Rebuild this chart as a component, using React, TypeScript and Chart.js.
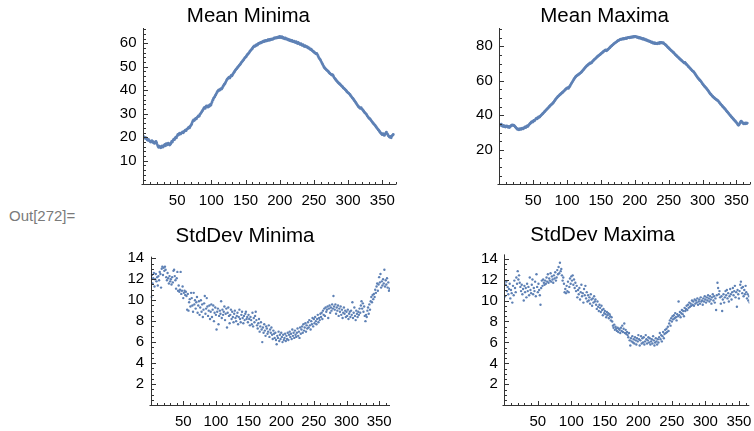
import React, { useEffect, useRef } from "react";
import { Chart, registerables } from "chart.js";

Chart.register(...registerables);

// ---- data (day 1..366) ----
const meanMinima = [
  20.3, 20.0, 19.6, 19.8, 19.4, 19.0, 18.7, 19.1, 18.6, 18.4,
  18.0, 18.3, 18.6, 17.9, 18.1, 17.6, 17.4, 17.9, 18.2, 17.6,
  16.8, 16.1, 15.7, 16.2, 15.9, 15.5, 15.9, 16.3, 15.8, 16.2,
  16.6, 17.0, 16.4, 17.3, 17.1, 16.8, 17.5, 17.2, 16.7, 17.0,
  17.6, 18.2, 18.0, 18.7, 19.2, 19.0, 19.6, 20.1, 19.8, 20.6,
  21.2, 21.0, 21.5, 21.8, 21.4, 21.7, 22.0, 22.3, 21.9, 22.4,
  22.7, 23.0, 22.8, 23.4, 23.6, 23.9, 24.3, 24.0, 24.6, 25.1,
  25.6, 26.3, 27.0, 27.4, 27.1, 27.6, 28.0, 27.8, 28.4, 28.7,
  29.1, 28.9, 29.6, 30.0, 30.4, 30.9, 31.3, 31.8, 32.4, 32.7,
  32.3, 33.0, 33.4, 33.1, 32.8, 33.5, 33.2, 33.9, 33.6, 34.3,
  35.0, 35.8, 36.4, 36.9, 37.3, 37.9, 38.4, 39.0, 39.5, 39.8,
  40.2, 40.0, 40.4, 40.7, 40.5, 41.0, 41.6, 42.1, 42.6, 42.9,
  43.5, 44.1, 44.6, 45.0, 45.3, 45.6, 45.2, 45.8, 46.3, 46.1,
  46.6, 47.1, 47.6, 48.0, 48.5, 48.9, 49.2, 49.6, 49.9, 50.3,
  50.7, 51.0, 51.4, 51.9, 52.2, 52.6, 52.9, 53.4, 53.8, 54.1,
  54.4, 54.9, 55.3, 55.6, 55.9, 56.4, 56.8, 57.1, 57.5, 57.8,
  58.3, 58.6, 58.9, 58.7, 59.1, 59.4, 59.2, 59.6, 59.9, 60.1,
  60.0, 60.4, 60.2, 60.6, 60.5, 60.9, 60.7, 61.1, 60.9, 61.2,
  61.0, 61.3, 61.5, 61.2, 61.6, 61.4, 61.8, 61.6, 61.9, 61.7,
  62.0, 62.3, 62.1, 62.4, 62.2, 62.5, 62.3, 62.7, 62.4, 62.9,
  62.6, 62.4, 62.8, 62.2, 62.5, 62.1, 61.9, 62.3, 61.8, 62.0,
  61.6, 61.8, 61.3, 61.5, 61.1, 61.3, 60.9, 61.2, 60.8, 60.6,
  60.9, 60.5, 60.3, 60.7, 60.2, 59.9, 60.4, 60.0, 59.7, 59.5,
  59.8, 59.3, 59.1, 59.4, 58.9, 58.6, 59.0, 58.7, 58.4, 58.6,
  58.2, 57.9, 58.0, 57.6, 57.3, 57.5, 57.0, 56.8, 56.5, 56.3,
  56.0, 55.8, 55.5, 55.7, 55.2, 54.6, 54.0, 53.5, 53.1, 52.6,
  52.0, 51.4, 50.9, 50.3, 49.8, 49.4, 49.1, 48.8, 48.5, 48.3,
  48.0, 47.6, 47.3, 47.0, 46.8, 46.5, 46.7, 46.3, 45.7, 45.2,
  44.8, 44.5, 44.1, 43.8, 43.4, 43.1, 42.9, 42.6, 42.3, 42.0,
  41.7, 41.4, 41.0, 40.8, 40.5, 40.2, 39.9, 39.5, 39.2, 38.9,
  38.7, 38.4, 38.0, 37.6, 37.2, 36.8, 36.5, 36.1, 35.7, 35.3,
  34.8, 34.4, 33.9, 33.5, 33.1, 32.8, 32.5, 32.3, 32.6, 32.1,
  31.8, 31.4, 31.0, 30.6, 30.3, 30.0, 29.6, 29.1, 28.7, 28.3,
  28.0, 27.8, 27.4, 27.0, 26.6, 26.2, 25.9, 25.5, 25.2, 24.8,
  24.4, 24.0, 23.6, 23.2, 22.9, 22.5, 22.1, 21.7, 21.4, 21.1,
  21.5, 21.0, 20.8, 21.3, 21.8, 22.2, 21.6, 21.1, 20.6, 20.3,
  20.0, 20.4, 19.8, 20.5, 20.9, 21.2,
];

const meanMaxima = [
  34.6, 34.2, 34.8, 33.9, 33.6, 34.1, 33.4, 33.8, 33.2, 33.6,
  33.9, 33.3, 33.0, 33.5, 32.9, 33.4, 33.8, 34.2, 34.5, 34.1,
  34.3, 34.0, 33.6, 33.1, 32.6, 32.2, 31.8, 32.1, 31.6, 31.9,
  32.3, 31.8, 32.2, 32.6, 32.1, 32.5, 32.9, 33.2, 32.8, 33.4,
  33.8, 33.5, 34.1, 34.6, 35.0, 35.4, 35.9, 36.3, 36.0, 36.6,
  37.1, 36.8, 37.4, 37.9, 38.3, 38.0, 38.6, 39.0, 38.8, 39.3,
  39.7, 40.1, 40.5, 40.9, 41.3, 41.7, 42.2, 42.6, 43.0, 43.4,
  43.9, 44.2, 44.7, 45.1, 45.6, 45.9, 46.3, 46.6, 47.0, 47.5,
  48.1, 48.6, 49.2, 49.7, 50.1, 50.6, 51.0, 51.4, 51.8, 52.1,
  52.5, 52.8, 53.2, 53.5, 53.9, 54.3, 54.7, 55.1, 55.5, 55.8,
  56.0, 55.6, 56.3, 56.9, 57.5, 58.2, 58.8, 59.4, 60.1, 60.8,
  61.4, 62.0, 62.5, 62.8, 63.1, 63.4, 63.7, 64.0, 64.3, 64.6,
  65.0, 65.4, 65.9, 66.3, 66.8, 67.3, 67.8, 68.2, 68.6, 68.9,
  69.3, 69.6, 69.9, 70.3, 70.1, 70.5, 70.9, 71.4, 71.8, 72.2,
  72.6, 72.9, 73.3, 73.7, 74.1, 74.4, 74.7, 75.0, 75.3, 75.7,
  76.0, 76.3, 76.7, 77.0, 77.3, 77.6, 77.9, 77.4, 77.7, 78.1,
  78.4, 78.8, 79.2, 79.6, 80.0, 80.3, 80.7, 81.0, 81.4, 81.7,
  82.0, 82.3, 82.6, 82.9, 83.2, 83.4, 83.6, 83.9, 84.1, 84.0,
  84.2, 84.4, 84.1, 84.5, 84.3, 84.6, 84.8, 84.5, 84.9, 85.0,
  85.2, 84.9, 85.3, 85.1, 85.4, 85.2, 85.6, 85.3, 85.8, 85.5,
  85.7, 85.4, 85.2, 85.5, 85.0, 84.8, 85.1, 84.6, 84.9, 84.4,
  84.2, 84.5, 84.0, 84.3, 83.8, 83.6, 83.9, 83.4, 83.1, 83.3,
  82.8, 83.0, 82.6, 82.3, 82.5, 82.0, 81.8, 82.1, 81.6, 81.9,
  81.5, 81.7, 81.4, 81.8, 82.0, 81.6, 82.2, 81.9, 82.3, 82.0,
  81.8, 82.1, 81.6, 81.3, 81.0, 80.6, 80.2, 79.8, 79.3, 79.0,
  78.6, 78.2, 77.8, 77.5, 77.1, 76.8, 76.4, 76.0, 75.5, 75.1,
  74.7, 74.4, 74.0, 73.6, 73.2, 72.9, 72.5, 72.1, 71.8, 71.4,
  71.0, 70.7, 70.3, 70.6, 70.1, 69.6, 69.2, 68.8, 68.3, 67.9,
  67.5, 67.1, 66.6, 66.2, 65.8, 65.5, 65.1, 64.6, 64.0, 63.4,
  62.8, 62.2, 61.7, 61.2, 60.8, 60.3, 59.9, 59.4, 58.8, 58.2,
  57.7, 57.2, 56.8, 56.3, 55.9, 55.4, 54.9, 54.4, 53.8, 53.2,
  52.7, 52.2, 51.8, 51.3, 50.9, 50.5, 50.2, 49.8, 49.5, 49.2,
  48.9, 48.6, 48.3, 47.8, 47.3, 46.8, 46.3, 45.9, 45.4, 45.0,
  44.6, 44.1, 43.7, 43.2, 42.7, 42.2, 41.8, 41.3, 40.8, 40.3,
  39.9, 39.4, 38.9, 38.5, 38.0, 37.6, 37.1, 36.7, 36.3, 35.8,
  35.3, 34.6, 34.2, 34.7, 35.4, 36.1, 36.6, 36.2, 35.7, 35.3,
  35.0, 35.4, 35.1, 35.6, 35.2, 35.5,
];

const stdDevMinima = [
  10.3, 12.4, 11.6, 12.1, 12.6, 11.3, 12.0, 12.5, 11.8, 12.2,
  11.4, 12.3, 11.9, 12.7, 12.5, 11.2, 13.0, 13.2, 12.4, 13.1,
  12.8, 13.2, 12.9, 12.2, 11.9, 12.6, 12.1, 11.6, 12.3, 11.8,
  12.0, 11.5, 12.2, 11.7, 12.8, 12.9, 12.3, 11.9, 11.1, 12.1,
  12.7, 10.9, 11.4, 10.8, 11.0, 12.7, 10.6, 10.9, 11.3, 10.2,
  10.7, 10.9, 10.5, 10.8, 10.4, 9.1, 10.6, 9.0, 9.8, 10.1,
  9.4, 10.7, 10.2, 9.5, 8.9, 10.7, 9.6, 10.0, 9.2, 9.8,
  10.3, 8.8, 9.5, 9.9, 8.6, 9.3, 10.0, 8.9, 9.6, 8.4,
  9.1, 9.7, 10.4, 8.7, 9.2, 10.2, 9.4, 8.5, 9.0, 9.5,
  8.2, 8.9, 9.6, 8.4, 9.1, 9.5, 8.0, 8.8, 9.3, 8.6,
  7.2, 8.9, 9.2, 7.7, 8.5, 9.0, 8.7, 9.9, 8.3, 9.1,
  8.6, 8.9, 9.4, 8.1, 8.7, 9.2, 7.4, 8.8, 9.3, 8.5,
  7.8, 8.6, 9.1, 8.2, 8.9, 8.4, 7.9, 8.7, 9.0, 8.3,
  8.0, 8.5, 8.8, 7.7, 8.4, 9.1, 8.2, 7.9, 8.6, 8.9,
  8.3, 7.8, 8.5, 8.1, 8.7, 8.9, 8.2, 8.4, 7.9, 8.6,
  8.2, 7.6, 8.4, 8.1, 7.7, 8.8, 7.5, 8.3, 7.9, 8.5,
  8.9, 8.1, 7.6, 7.3, 7.8, 8.2, 7.0, 7.5, 7.9, 7.2,
  6.0, 7.4, 6.9, 7.7, 7.1, 6.6, 7.5, 7.3, 6.8, 7.0,
  7.6, 6.5, 7.2, 6.9, 7.4, 6.7, 6.3, 7.1, 6.8, 6.4,
  6.9, 6.2, 5.8, 6.6, 6.4, 7.0, 6.1, 6.7, 6.3, 6.9,
  6.5, 6.0, 6.7, 6.2, 6.4, 6.8, 6.1, 6.6, 6.3, 6.9,
  6.2, 6.7, 7.0, 6.5, 6.8, 6.3, 7.2, 6.6, 6.9, 6.4,
  7.1, 6.7, 6.5, 6.9, 7.3, 6.6, 7.0, 6.4, 7.4, 6.8,
  7.2, 7.5, 6.9, 7.7, 7.1, 7.4, 7.8, 7.0, 7.6, 7.3,
  7.9, 7.4, 8.1, 7.6, 7.2, 8.0, 7.7, 8.3, 7.5, 8.2,
  7.8, 8.4, 8.0, 7.7, 8.2, 8.6, 7.9, 8.3, 8.1, 8.7,
  8.4, 8.8, 8.2, 9.0, 8.6, 9.2, 8.5, 9.3, 8.9, 9.1,
  9.4, 8.3, 9.2, 9.5, 8.8, 9.3, 9.0, 9.6, 9.2, 10.4,
  9.4, 9.1, 9.6, 8.7, 9.3, 9.0, 9.5, 8.5, 9.2, 8.9,
  9.4, 8.6, 9.1, 8.3, 8.8, 9.3, 8.7, 9.0, 8.4, 8.9,
  8.5, 9.1, 8.2, 8.7, 8.9, 8.4, 9.0, 8.6, 9.8, 8.3,
  8.8, 9.3, 8.5, 8.1, 9.0, 8.7, 8.4, 8.9, 8.6, 9.2,
  8.8, 9.5, 9.9, 9.2, 9.7, 8.9, 9.4, 8.5, 8.0, 8.6,
  8.4, 9.0, 9.3, 8.7, 9.6, 9.1, 9.9, 10.3, 9.8, 10.5,
  10.1, 10.6, 10.3, 11.0, 10.7, 11.3, 11.6, 10.9, 11.5, 12.2,
  11.7, 12.5, 11.2, 11.8, 11.4, 12.0, 11.6, 12.9, 11.3, 11.9,
  11.5, 12.1, 11.2, 11.7, 10.9, 11.1,
];

const stdDevMaxima = [
  10.4, 11.5, 11.8, 10.9, 11.3, 10.6, 11.1, 11.6, 10.2, 11.0,
  10.7, 9.8, 11.4, 10.5, 11.9, 11.2, 10.8, 12.2, 11.6, 12.8,
  12.0, 12.4, 11.7, 11.3, 10.9, 11.5, 10.6, 11.1, 10.0, 11.4,
  10.8, 11.2, 10.3, 11.6, 10.9, 11.3, 10.5, 12.2, 11.0, 10.7,
  11.5, 12.0, 10.6, 11.2, 10.9, 11.8, 10.4, 12.5, 11.3, 10.8,
  11.6, 11.0, 10.5, 9.6, 11.2, 11.9, 11.4, 12.0, 11.7, 11.5,
  11.9, 11.6, 12.2, 11.8, 12.5, 11.7, 12.1, 11.9, 12.6, 11.8,
  12.3, 12.0, 11.7, 12.4, 12.1, 12.7, 11.9, 12.2, 12.9, 12.5,
  13.2, 12.6, 13.6, 12.8, 13.0, 12.4, 11.9, 12.2, 11.6, 10.8,
  11.1, 10.7, 11.4, 10.9, 11.8, 10.8, 11.3, 12.1, 11.6, 12.3,
  11.9, 12.4, 11.5, 12.0, 11.2, 11.7, 10.9, 11.4, 10.3, 11.0,
  10.6, 11.2, 10.1, 10.8, 11.5, 10.4, 10.7, 9.8, 11.1, 10.5,
  11.4, 10.2, 10.8, 9.9, 10.5, 10.0, 10.3, 9.7, 10.6, 10.1,
  9.5, 10.2, 9.8, 10.4, 9.9, 10.1, 9.6, 9.2, 9.9, 9.4,
  9.0, 9.6, 9.3, 8.9, 9.5, 9.1, 8.6, 9.2, 8.8, 9.0,
  8.7, 8.4, 8.9, 8.6, 8.8, 8.3, 8.7, 8.5, 8.1, 8.4,
  8.0, 7.6, 7.4, 7.7, 7.2, 7.5, 7.3, 7.1, 7.4, 7.0,
  7.3, 7.2, 6.9, 7.4, 7.1, 7.6, 7.0, 7.3, 7.8, 6.9,
  7.2, 6.8, 7.0, 6.7, 6.5, 6.9, 6.2, 5.7, 6.4, 6.1,
  6.6, 6.0, 6.3, 5.9, 6.5, 6.2, 5.8, 6.4, 6.1, 6.7,
  6.3, 5.7, 6.2, 6.6, 5.9, 6.4, 6.0, 6.5, 5.8, 6.1,
  6.7, 6.3, 5.9, 6.2, 6.5, 6.0, 6.4, 5.8, 6.1, 6.3,
  5.9, 6.6, 6.2, 5.7, 6.0, 6.4, 6.1, 5.8, 6.3, 6.0,
  6.5, 6.9, 6.3, 6.7, 6.1, 6.6, 7.0, 6.4, 6.8, 7.2,
  6.9, 7.3, 7.0, 7.5, 7.1, 7.8, 8.1, 7.6, 8.3, 8.0,
  8.5, 8.2, 8.6, 8.3, 8.8, 8.4, 8.1, 8.7, 8.5, 9.9,
  8.6, 8.9, 8.4, 8.8, 9.1, 8.7, 9.0, 8.5, 9.3, 9.0,
  9.2, 9.5, 9.1, 9.6, 9.3, 9.8, 9.4, 9.7, 9.5, 10.0,
  9.6, 9.9, 9.5, 10.1, 9.7, 10.0, 9.8, 10.2, 9.6, 9.9,
  10.1, 9.7, 10.3, 9.9, 10.0, 9.6, 10.2, 9.9, 10.4, 10.1,
  9.8, 10.3, 10.0, 10.5, 10.2, 9.9, 10.4, 10.1, 9.7, 10.3,
  10.6, 10.0, 10.4, 9.8, 10.2, 9.1, 10.5, 11.7, 11.2, 10.6,
  10.9, 10.3, 9.7, 10.4, 9.0, 10.1, 10.6, 9.8, 10.3, 10.9,
  10.5, 11.0, 10.2, 10.7, 9.9, 10.4, 11.1, 10.6, 10.1, 10.8,
  11.2, 10.5, 10.9, 11.4, 10.3, 10.8, 9.4, 11.0, 10.6, 10.2,
  10.9, 11.5, 11.8, 11.2, 10.7, 11.3, 10.4, 11.0, 10.6, 11.4,
  10.8, 10.2, 10.6, 10.0, 10.4, 9.8,
];

const xTickLabels = [50, 100, 150, 200, 250, 300, 350];
const meanMinYTicks = [10, 20, 30, 40, 50, 60];
const meanMaxYTicks = [20, 40, 60, 80];
const stdDevYTicks = [2, 4, 6, 8, 10, 12, 14];
const titles = ["Mean Minima", "Mean Maxima", "StdDev Minima", "StdDev Maxima"];

// ---- styling / layout ----
const FONT = "'Liberation Sans', Arial, Helvetica, sans-serif";
const POINT_COLOR = "#5E81B5";
const AXIS_COLOR = "#333333";

type Panel = {
  title: string;
  values: number[];
  yTicks: number[];
  yMajor: number;
  yMinor: number;
  xMax: number;
  yMax: number;
  left: number;
  top: number;
  width: number;
  height: number;
  yWidth: number;
  xHeight: number;
  padRight: number;
  titleTop: number;
  titleBottom: number;
  radius: number;
};

const panels: Panel[] = [
  {
    title: titles[0], values: meanMinima, yTicks: meanMinYTicks, yMajor: 10, yMinor: 2,
    xMax: 370, yMax: 66.5, left: 100, top: 0, width: 300, height: 215,
    yWidth: 43, xHeight: 30.7, padRight: 3.3, titleTop: 4.2, titleBottom: -0.8, radius: 1.4,
  },
  {
    title: titles[1], values: meanMaxima, yTicks: meanMaxYTicks, yMajor: 20, yMinor: 5,
    xMax: 370, yMax: 90.6, left: 456, top: 0, width: 298, height: 215,
    yWidth: 43.3, xHeight: 30.7, padRight: 0.7, titleTop: 4.2, titleBottom: -0.8, radius: 1.4,
  },
  {
    title: titles[2], values: stdDevMinima, yTicks: stdDevYTicks, yMajor: 2, yMinor: 0.5,
    xMax: 366.6, yMax: 14.15, left: 100, top: 215, width: 300, height: 216,
    yWidth: 50.6, xHeight: 26, padRight: 10, titleTop: 9.4, titleBottom: 7.7, radius: 1.2,
  },
  {
    title: titles[3], values: stdDevMaxima, yTicks: stdDevYTicks, yMajor: 2, yMinor: 0.5,
    xMax: 365.5, yMax: 14.4, left: 456, top: 215, width: 298, height: 216,
    yWidth: 48.3, xHeight: 25.7, padRight: 4.7, titleTop: 8.5, titleBottom: 6.3, radius: 1.2,
  },
];

// Mathematica-style axes: lines through the origin, inward major/minor ticks
const mmaAxes = {
  id: "mmaAxes",
  afterDatasetsDraw(chart: any, _args: any, opts: any) {
    const { ctx, scales } = chart;
    const xs = scales.x;
    const ys = scales.y;
    const snap = (v: number) => Math.round(v) + 0.5;
    const ox = snap(xs.getPixelForValue(0));
    const oy = snap(ys.getPixelForValue(0));
    const right = xs.getPixelForValue(xs.max);
    const top = ys.getPixelForValue(ys.max);
    ctx.save();
    ctx.strokeStyle = AXIS_COLOR;
    ctx.lineWidth = 1;
    ctx.beginPath();
    ctx.moveTo(ox - 2, oy);
    ctx.lineTo(right, oy);
    ctx.moveTo(ox, oy + 0.5);
    ctx.lineTo(ox, top);
    // x ticks
    for (let i = 1; i * opts.xMinor <= xs.max + 1e-9; i++) {
      const v = i * opts.xMinor;
      const r = v / opts.xMajor;
      const major = Math.abs(r - Math.round(r)) < 1e-6;
      const px = snap(xs.getPixelForValue(v));
      ctx.moveTo(px, oy);
      ctx.lineTo(px, oy - (major ? 4.5 : 2.5));
    }
    // y ticks
    for (let i = 1; i * opts.yMinor <= ys.max + 1e-9; i++) {
      const v = i * opts.yMinor;
      const r = v / opts.yMajor;
      const major = Math.abs(r - Math.round(r)) < 1e-6;
      const py = snap(ys.getPixelForValue(v));
      ctx.moveTo(ox, py);
      ctx.lineTo(ox + (major ? 4.5 : 2.5), py);
    }
    ctx.stroke();
    ctx.restore();
  },
};

function ChartPanel({ p }: { p: Panel }) {
  const ref = useRef<HTMLCanvasElement>(null);
  useEffect(() => {
    const canvas = ref.current;
    if (!canvas) return;
    const zeroPad = (s: any) => {
      s.paddingLeft = 0;
      s.paddingRight = 0;
      s.paddingTop = 0;
      s.paddingBottom = 0;
    };
    const chart = new Chart(canvas, {
      type: "scatter",
      data: {
        datasets: [
          {
            data: p.values.map((v, i) => ({ x: i + 1, y: v })),
            backgroundColor: POINT_COLOR,
            pointBackgroundColor: POINT_COLOR,
            pointBorderWidth: 0,
            borderWidth: 0,
            pointRadius: p.radius,
          },
        ],
      },
      options: {
        responsive: false,
        animation: false,
        devicePixelRatio: 1,
        layout: { padding: { left: 0, top: 0, bottom: 0, right: p.padRight } },
        plugins: {
          legend: { display: false },
          tooltip: { enabled: false },
          title: {
            display: true,
            text: p.title,
            color: "#000",
            font: { family: FONT, size: 20.5, weight: "normal" },
            padding: { top: p.titleTop, bottom: p.titleBottom },
          },
          mmaAxes: { xMinor: 10, xMajor: 50, yMinor: p.yMinor, yMajor: p.yMajor },
        } as any,
        scales: {
          x: {
            type: "linear",
            min: 0,
            max: p.xMax,
            grid: { display: false, drawTicks: false },
            border: { display: false },
            afterBuildTicks: (s: any) => {
              s.ticks = xTickLabels.map((v) => ({ value: v }));
            },
            afterFit: (s: any) => {
              s.height = p.xHeight;
              zeroPad(s);
            },
            ticks: {
              autoSkip: false,
              maxRotation: 0,
              minRotation: 0,
              padding: 8,
              color: "#000",
              font: { family: FONT, size: 15 },
              callback: (v: any) => String(v),
            },
          },
          y: {
            type: "linear",
            min: 0,
            max: p.yMax,
            grid: { display: false, drawTicks: false },
            border: { display: false },
            afterBuildTicks: (s: any) => {
              s.ticks = p.yTicks.map((v) => ({ value: v }));
            },
            afterFit: (s: any) => {
              s.width = p.yWidth;
              zeroPad(s);
            },
            ticks: {
              autoSkip: false,
              padding: 6.5,
              color: "#000",
              font: { family: FONT, size: 15 },
              callback: (v: any) => String(v),
            },
          },
        },
      },
      plugins: [mmaAxes as any],
    });
    return () => chart.destroy();
  }, [p]);
  return (
    <canvas
      ref={ref}
      width={p.width}
      height={p.height}
      style={{ position: "absolute", left: p.left, top: p.top, width: p.width, height: p.height }}
    />
  );
}

export default function App() {
  return (
    <div
      style={{
        position: "absolute",
        left: 0,
        top: 0,
        width: 754,
        height: 431,
        background: "#fff",
        overflow: "hidden",
      }}
    >
      <div
        style={{
          position: "absolute",
          left: 9,
          top: 208,
          fontFamily: FONT,
          fontSize: 15,
          lineHeight: "15px",
          color: "#7a7a7a",
          whiteSpace: "nowrap",
        }}
      >
        Out[272]=
      </div>
      {panels.map((p) => (
        <ChartPanel key={p.title} p={p} />
      ))}
    </div>
  );
}
